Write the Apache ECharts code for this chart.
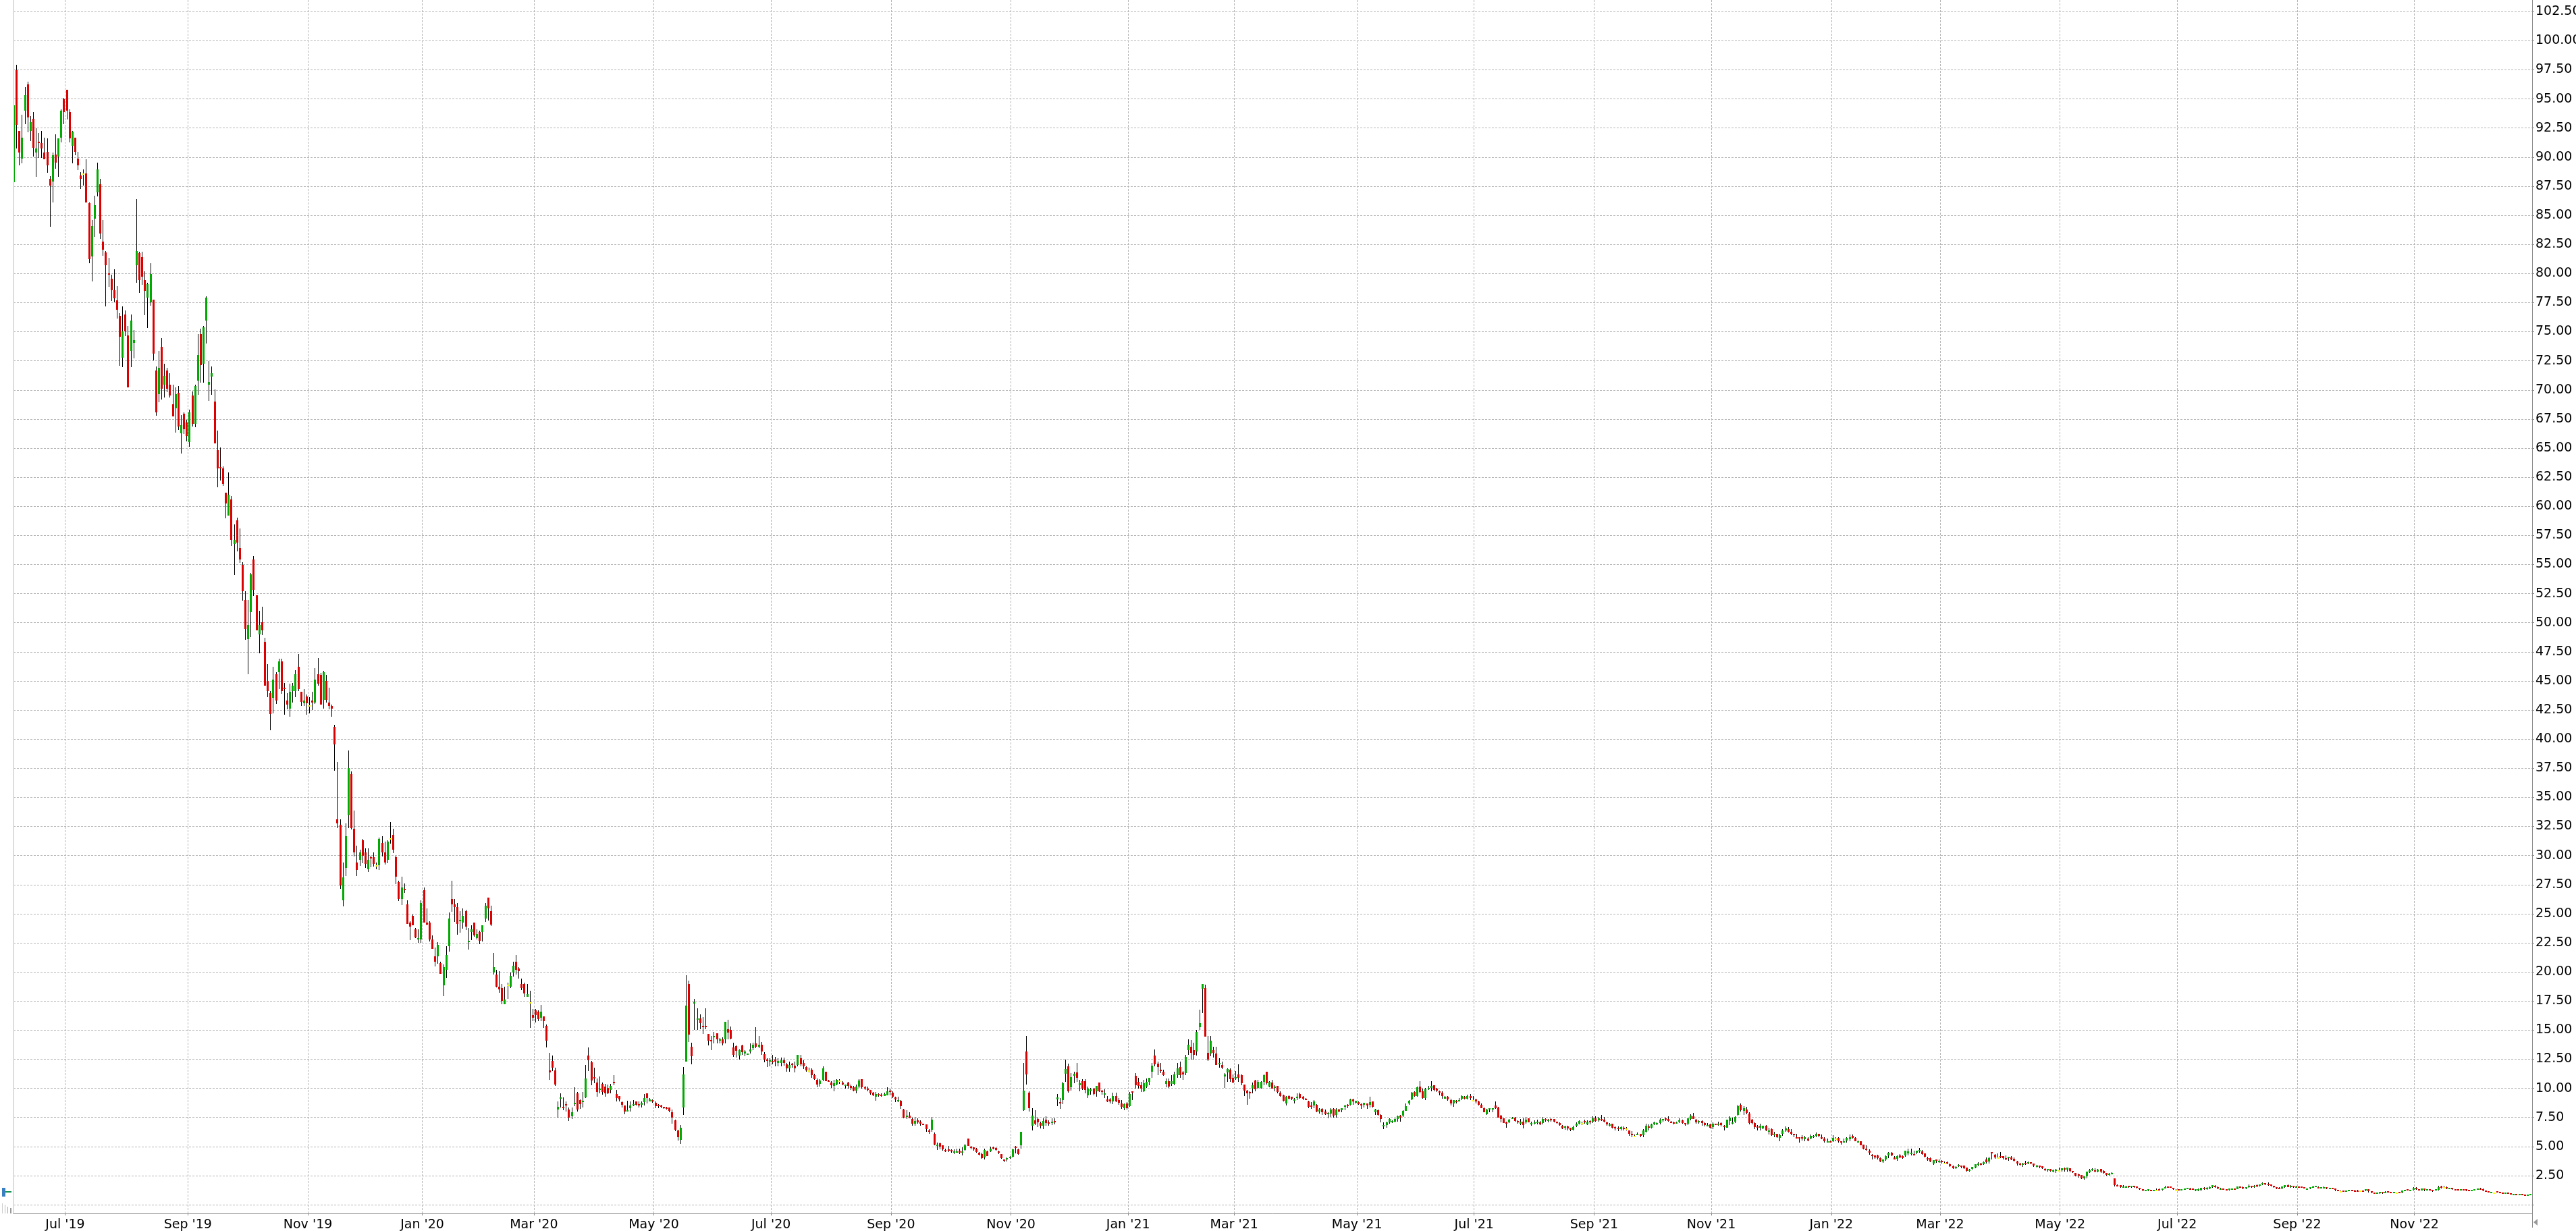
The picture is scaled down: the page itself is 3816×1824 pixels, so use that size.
<!DOCTYPE html>
<html>
<head>
<meta charset="utf-8">
<title>chart</title>
<script src="https://cdn.jsdelivr.net/npm/echarts@6/dist/echarts.min.js"></script>
<style>
html,body{margin:0;padding:0;background:#fff;}
#chart{width:3816px;height:1824px;}
</style>
</head>
<body>
<div id="chart"></div>
<script>
// daily bars, each row is [open, close, low, high]
// one list per two month stretch, same stretches as the date grid
var jun19 = [[87.82,94.43,87.43,94.64],[97.47,92.75,90.77,97.91],[92.28,90.37,89.32,92.28],[89.9,91.7,89.44,93.62],[93.97,95.3,92.81,96],[96.23,93.39,92.11,96.46],[92.28,92.98,91.41,93.5],[93.27,90.83,90.06,93.85],[90.37,90.72,88.28,92.5],[91.3,91.18,89.96,92.05],[91.18,90.72,89.96,92.28],[90.37,89.79,89.79,91.7],[90.48,89.27,88.63,91.59],[88.11,87.58,84.04,88.34],[87.93,90.14,86.08,90.37],[90.25,89.5,88.98,91.94],[90.02,91.59,88.28,91.59],[91.7,93.97,91.24,94.08],[94.95,93.85,92.81,95.07]];
var jul19 = [[95.76,93.97,93.21,95.76],[93.85,91.59,91.24,94.08],[90.95,92.17,89.44,92.28],[91.7,90.48,90.19,91.7],[89.9,89.27,88.86,90.48],[88.45,88.11,87.29,88.69],[88.6,88.6,87.53,88.92],[88.57,86.13,86.13,89.79],[86.02,81.26,80.91,86.13],[81.49,84.1,79.35,84.62],[84.74,85.9,83.12,86.66],[87,88.92,86.6,89.5],[87.7,83.41,83,88.11],[82.77,82.07,81.55,84.62],[81.84,80.74,77.2,81.96],[80.04,79.93,78.88,81.38],[79.58,78.59,77.66,79.93],[78.59,77.9,77.55,80.39],[77.72,76.91,76.15,78.94],[76.37,74.57,72.08,76.6],[72.77,75.03,71.96,77.18],[76.49,75.03,74.63,76.83],[74.69,70.22,70.22,75.5],[73.35,75.96,71.96,76.49],[74.05,74.28,72.71,75.15],[80.74,81.96,79.23,86.42],[81.77,79.44,78.34,81.88],[81.42,79.73,79.04,81.88],[79.44,78.52,76.43,80.2],[77.94,79.1,75.32,79.2],[77.53,79.97,77.24,80.9],[77.76,73.12,72.54,77.76],[71.67,68.07,67.78,72.02],[69.64,71.9,68.94,73.35],[73.7,70.1,69.17,74.45],[70.45,71.2,69.35,72.25],[71.67,70.1,69.8,71.9],[70.45,69.52,69.35,71.44],[68.77,67.72,67.72,70.45],[68.42,69.64,66.33,70.22],[69.76,66.85,66.56,70.33],[66.27,66.97,64.53,67.84],[67.96,66.62,66.21,68.07],[67.2,66.04,65.58,67.43]];
var sep19 = [[65.52,68.07,65.11,68.3],[69.52,67.09,66.85,69.87],[67.09,70.33,66.8,70.45],[70.8,73,69.58,74.8],[74.8,72.13,70.63,75.27],[72.25,75.38,70.63,75.5],[75.96,77.94,74,78.05],[70.44,70.68,69.04,72.5],[71.12,71.43,69.59,72],[69,65.39,65.39,70.03],[64.82,63.27,61.66,66.51],[63.37,63.27,62.2,65.06],[63.24,61.9,61.74,63.45],[61.2,60.24,58.97,61.2],[59.2,60.99,59.2,62.9],[60.58,57.13,56.61,60.89],[56.79,57.1,54.1,58.43],[58.79,56.87,56.12,59.02],[56.4,55.42,55.14,58.09],[54.95,52.7,51.87,55.19],[51.95,49.44,48.51,52.7],[48.58,49.8,45.55,51.95],[50.89,54.15,48.74,54.26],[55.42,52.81,52.29,55.71],[52.34,49.33,49.33,52.34],[48.97,49.8,47.37,51.02],[50.03,49.33,48.92,51.35],[48.35,44.62,44.62,48.69],[44.98,44.15,43.58,46.43],[43.95,42.13,40.74,44.15],[43.53,45.09,42.19,46.2],[45.6,43.3,43.02,45.76],[45.73,46.67,44.31,46.9],[46.67,44.15,43.9,46.9],[44.39,44.28,42.08,44.85],[43.3,42.94,42.55,43.95],[42.6,44.05,41.93,44.75],[44.15,44.62,43.12,44.85],[44.15,45.6,43.58,45.94],[46.2,44.28,44.1,47.29],[44.05,43.2,42.88,44.05],[43.09,43.3,42.88,44.28],[43.64,43.07,42.08,43.82]];
var nov19 = [[42.9,42.9,42.2,43.6],[43.3,43.17,42.5,44.05],[43.17,45.09,43,46.07],[45.6,44.75,44.57,46.98],[45.5,42.96,42.96,45.72],[43.4,45.73,42.6,45.84],[44.98,43.4,43.12,45.5],[43.17,42.84,42.55,44.39],[42.84,42.6,41.93,42.94],[41.08,39.52,37.31,41.2],[33.12,32.78,32.37,38.05],[32.66,27.4,27.11,33.12],[26.17,28.1,25.64,29.42],[28.94,31.68,28.26,32.78],[33.48,37.5,32.37,39.04],[37.02,32.37,32.25,37.23],[32.3,30.28,29.95,33.89],[29.42,28.74,28.26,30.86],[29.66,30.28,29.13,30.52],[31.34,29.99,29.37,31.41],[30.28,29.3,28.91,30.64],[28.84,29.66,28.57,30.64],[29.87,29.75,29,29.97],[29.87,29.3,29.03,30.28],[29.15,29.15,28.8,29.42],[29.18,31.44,28.77,31.53],[31.1,30.28,29.95,31.65],[30.28,29.42,29.25,31.22],[29.66,31.22,29.37,31.34],[31.5,31.5,31.03,32.9],[31.8,30.52,30.24,32.3],[29.87,28.21,27.56,29.97],[27.73,26.29,26.12,27.83],[26.29,27.25,25.76,28.19],[27.15,27.03,26.77,27.61],[25.8,24.13,24.13,26.17],[24.25,23.91,22.76,24.37],[24.82,24.03,24.03,24.92],[23.67,22.95,22.9,23.77],[22.8,22.92,22.49,23.64],[22.8,25.93,22.49,26.17]];
var jan20 = [[27.01,24.25,24.25,27.25],[24.25,24.05,24,25.47],[24.25,22.8,22.63,24.37],[22.8,22,22,23.14],[21.36,20.88,20.5,22.1],[21.36,22.32,20.73,22.56],[20.76,19.82,19.82,20.88],[18.86,20.42,17.94,20.66],[20.18,21.48,19.51,22.23],[22.23,24.61,21.72,25.09],[26.29,25.81,25.18,27.85],[25.81,25.59,24.32,26.29],[25.59,24.13,23.21,25.93],[24.37,24.49,23.38,25.21],[24.25,24.82,23.72,25.47],[25.23,23.91,23.6,25.33],[22.56,22.68,21.94,23.77],[23.45,23.64,22.76,24.03],[24.22,23.16,23,24.22],[22.92,23.28,22.8,23.64],[23.43,22.68,22.39,23.52],[23.45,24,22.63,24],[24.61,25.71,24.32,25.93],[26.41,25.47,24.4,26.41],[25.23,24.05,23.96,25.71],[19.97,20.42,19.75,21.65],[19.8,18.76,18.67,20.16],[18.74,18.52,18.2,20.09],[18.62,17.51,17.25,18.96],[17.2,17.63,17.2,18.74],[18.93,18.93,17.7,19.08],[18.76,19.68,18.59,19.97],[19.97,20.54,19.63,20.88],[20.88,20.18,19.75,21.48],[20.3,20.09,19.44,20.4],[18.98,18.62,18.47,19.44],[18.98,18.14,17.87,19.08],[17.87,18.11,17.87,18.98],[17.37,17.37,15.19,18.4],[16.31,16.07,15.76,16.84]];
var mar20 = [[16.72,16.31,15.66,16.84],[16.6,15.95,15.76,16.72],[16.07,16.57,15.78,17.15],[16.19,15.76,15.2,16.19],[15.35,14.07,13.54,15.47],[11.52,11.38,10.73,13.06],[12.34,11.76,11.5,12.82],[11.52,10.32,10.18,11.76],[8.18,8.42,7.48,8.85],[9.12,9.24,8.37,9.58],[8.42,8.3,8.13,9.2],[8.64,8.54,8,8.85],[8.18,7.48,7.17,8.37],[7.6,7.94,7.36,8.37],[8.64,8.76,8.45,10.08],[9.58,8.18,8.01,9.7],[9,8.62,8.25,9.02],[8.83,8.93,8.37,9.7],[9.21,10.85,9.17,11.98],[12.82,12.39,11.5,13.54],[12.22,10.7,10.27,12.34],[10.97,10.85,10.42,11.79],[10.51,9.7,9.29,10.85],[9.86,9.98,9.58,11.02],[10.37,9.7,9.43,10.48],[10.13,9.58,9.29,10.37],[10.06,9.58,9.5,10.3],[9.86,10.23,9.58,10.37],[10.56,10.44,10.27,11.14],[9.5,9.14,8.85,9.86],[9.34,9.02,8.85,9.34],[8.8,8.56,8.37,8.85],[8.54,8.01,7.77,8.54],[8.04,8.15,8,8.92],[8.3,8.52,8,8.9],[8.54,8.64,8.45,9],[8.88,8.56,8.5,8.88],[8.64,8.54,8.37,8.88],[8.56,8.76,8.37,8.88],[8.83,9.17,8.54,9.5],[9.58,9.14,8.71,9.58],[8.9,9.02,8.9,9.17],[9,8.85,8.78,9.07]];
var may20 = [[8.76,8.45,8.3,8.88],[8.56,8.47,8.3,8.64],[8.54,8.42,8.3,8.59],[8.4,8.3,8.25,8.42],[8.35,8.25,8.18,8.42],[8.35,8.06,7.94,8.37],[7.94,7.48,6.98,8.18],[7.24,6.45,6.33,7.29],[6.38,5.8,5.54,6.45],[5.58,6.62,5.22,6.86],[8.37,11.22,7.72,11.86],[12.3,17.13,12.3,19.69],[18.99,14.63,13.99,19.28],[13.59,12.77,12.09,13.93],[17.27,17.42,15,17.71],[15.93,16.03,15,16.9],[16.03,15.62,15.1,16.36],[15.39,15.29,14.65,16.12],[15.39,15.29,15.1,16.9],[14.69,14.07,13.7,14.69],[14.17,14.07,13.29,14.52],[14.38,14.52,13.88,14.85],[14.75,14.22,13.88,14.75],[14.11,14.22,13.88,14.32],[14.22,13.88,13.7,14.38],[14.19,15.74,13.84,15.74],[15.1,14.81,14.22,15.91],[15.04,14.26,14.22,15.29],[13.53,12.87,12.73,13.93],[13.64,13.22,12.67,13.7],[12.81,13.26,12.48,13.35],[13.7,13.1,12.87,13.74],[13.02,13.16,12.77,13.26],[12.91,13,12.87,13.02],[13.16,13.35,13.02,13.84],[13.45,13.72,13.26,13.9],[13.88,13.58,13.45,15.27],[13.57,13.74,13.45,14.48],[13.76,13.18,12.9,13.99],[12.95,12.48,12.25,13.1],[12.48,12.38,11.84,12.58],[12.27,12.4,11.88,12.58]];
var jul20 = [[12.38,12.23,12.09,12.87],[12.48,12.27,11.9,12.71],[12.17,12.34,11.9,12.58],[12.17,12.44,11.9,12.67],[12.42,12.17,11.94,12.67],[12.09,11.74,11.4,12.19],[11.7,12,11.45,12.29],[12.13,12,11.8,12.19],[11.96,11.7,11.38,12.29],[11.98,12.87,11.9,12.87],[12.58,12.05,11.9,12.87],[12.19,11.9,11.65,12.44],[11.84,11.57,11.41,11.9],[11.55,11.55,11.38,11.8],[11.61,11.12,10.93,11.74],[11.12,10.79,10.74,11.28],[10.74,10.35,10.12,10.83],[10.41,10.68,10.15,10.79],[10.74,11.74,10.64,11.9],[11.41,10.64,10.64,11.45],[10.7,10.58,10.54,10.74],[10.5,10.25,10.06,10.64],[10.23,10.45,9.73,10.74],[10.35,10.72,10.25,10.79],[10.68,10.68,10.39,10.78],[10.5,10.35,10.25,10.64],[10.21,10.31,9.96,10.35],[10.48,10.19,9.96,10.54],[10.19,10.02,9.86,10.31],[10.1,9.81,9.77,10.19],[9.81,10.15,9.57,10.35],[10.15,10.68,10.06,10.79],[10.76,10.1,9.96,10.76],[10.08,10,9.86,10.19],[10,9.92,9.77,10.15],[9.86,9.57,9.48,9.86],[9.61,9.42,9.34,9.67],[9.28,9.52,8.96,9.67],[9.53,9.38,9.28,9.57],[9.48,9.38,9.28,9.57],[9.36,9.5,9.34,9.63],[9.42,9.77,9.38,10.1],[9.83,9.73,9.38,9.96]];
var sep20 = [[9.65,9.28,9.19,9.77],[9.24,9.03,8.8,9.28],[8.9,9,8.8,9.28],[8.93,8.49,8.22,9],[8.2,7.5,7.44,8.22],[7.52,7.67,7.34,8.12],[7.64,7.4,7.4,7.93],[7.38,6.96,6.8,7.48],[6.94,7.21,6.8,7.54],[7.25,7.05,6.96,7.4],[7.15,6.96,6.8,7.25],[6.96,6.86,6.86,6.96],[6.9,6.47,6.28,6.92],[6.38,6.24,6.12,6.47],[6.43,7.33,6.28,7.54],[6.09,5.16,5.08,6.2],[5.04,5.16,4.69,5.31],[5.27,4.98,4.73,5.31],[5.08,4.77,4.63,5.08],[4.69,4.57,4.53,4.83],[4.73,4.63,4.53,5.02],[4.69,4.59,4.44,4.73],[4.5,4.59,4.34,4.73],[4.48,4.59,4.44,4.79],[4.63,4.48,4.38,4.79],[4.48,4.59,4.24,4.92],[4.69,5.12,4.63,5.22],[5.7,5.06,5.02,5.7],[4.98,4.88,4.77,5.02],[4.92,4.73,4.63,4.96],[4.81,4.52,4.44,4.86],[4.46,4.3,4.24,4.5],[4.34,4.01,3.97,4.44],[4.05,4.69,3.9,4.83],[4.59,4.2,4.15,4.63],[4.57,4.83,4.53,4.98],[4.96,4.83,4.73,4.98],[4.85,4.69,4.63,4.92],[4.59,4.44,4.34,4.63],[4.34,4.01,3.97,4.38],[3.86,3.76,3.66,3.9],[3.93,4.03,3.72,4.05],[3.99,4.11,3.93,4.15]];
var nov20 = [[4.11,4.73,4.09,4.83],[4.98,4.86,4.4,5.02],[4.75,4.38,4.3,4.83],[5.12,6.26,4.83,6.26],[8.1,9.8,8.06,12.19],[13.18,11.2,10.35,14.52],[9.63,8.31,8.02,9.77],[6.8,7.64,6.38,8.27],[7.25,6.96,6.86,8.12],[7.38,7.05,6.67,7.48],[7.02,6.76,6.57,7.15],[6.76,7.19,6.47,7.44],[7.31,7.02,6.76,7.58],[7.09,7,6.76,7.25],[7.03,7.15,6.86,7.44],[7.19,7.07,6.9,7.44],[9.03,9.22,8.47,9.52],[8.82,8.7,8.26,9.19],[8.99,10.45,8.64,10.54],[11.26,11.65,10.54,12.48],[11.88,9.77,9.61,12.11],[10.08,10.97,9.81,11.32],[11.08,11.26,10.45,11.41],[11.38,10.93,10.54,12.19],[10.29,10.45,9.77,10.74],[10.64,9.96,9.86,10.78],[10.62,9.86,9.57,10.78],[9.42,9.96,9.19,10.15],[9.77,9.92,9.48,10.02],[9.96,9.53,9.38,10.06],[9.77,10.19,9.28,10.21],[10.5,9.77,9.67,10.5],[9.81,9.67,9.48,9.86],[9.48,9.57,9.19,9.92],[9.05,8.9,8.8,9.34],[9.03,8.9,8.7,9.19],[8.86,9.34,8.64,9.63],[9.34,8.86,8.8,9.61],[8.99,8.74,8.6,9.19],[8.72,8.41,8.22,8.99],[8.31,8.64,8.12,8.7],[8.7,8.31,8.18,8.8]];
var jan21 = [[8.45,9.52,8.41,9.67],[9.77,9.65,9,9.77],[11.09,10.25,10,11.32],[10.54,10.21,9.96,10.93],[10.25,9.96,9.67,10.54],[9.77,10.45,9.67,10.74],[10.15,10.54,10.06,10.83],[10.54,10.89,10.25,10.93],[11.41,11.96,10.93,12.19],[12.83,12.09,11.9,13.35],[12.13,11.84,11.16,12.29],[11.61,11.49,11.32,12.19],[11.41,11.16,11.1,11.61],[10.39,10.64,10.12,10.83],[10.6,10.15,10.06,10.83],[10.39,10.64,10.19,11.12],[10.39,11.2,10.25,11.41],[11.16,11.74,10.93,12.19],[11.84,11.16,10.93,12.29],[11.38,11.22,10.74,11.51],[11.32,12.73,11.12,12.87],[13.26,13.76,12.87,14.22],[13.6,13.06,12.48,14.13],[13.31,12.87,12.48,13.93],[13.16,14.86,12.83,15.04],[15.27,15.62,15.04,16.78],[18.53,18.95,16.45,18.97],[18.59,14.46,14.42,18.93],[13.06,12.48,12.33,14.52],[12.98,14.11,12.77,14.52],[13.31,13.06,12.67,13.6],[13,12.03,11.99,13.6],[12.07,12.19,11.8,12.58],[12.03,11.8,11.67,12.29],[11.03,11.22,10.04,11.32],[11.36,11.67,10.54,11.74],[11.61,10.79,10.54,11.71],[10.93,10.5,10.45,11.22]];
var mar21 = [[10.83,10.99,10.74,11.51],[11.22,10.93,10.54,12.05],[11.16,10.45,10.25,11.22],[10.31,9.83,9.34,10.31],[9.81,9.57,8.6,9.86],[9.69,9.57,9.13,9.77],[9.96,10.25,9.57,10.5],[10.66,9.92,9.77,10.74],[10.02,10.54,9.96,10.74],[10.04,10.58,9.96,10.64],[10.54,11.16,10.25,11.22],[11.41,10.45,10.35,11.41],[10.15,10.58,10.12,10.64],[10.48,9.96,9.96,10.74],[10.02,10.17,9.77,10.25],[10.19,9.69,9.57,10.21],[9.65,9.34,9.28,9.77],[9.4,8.93,8.89,9.44],[8.7,9.28,8.55,9.32],[9.34,9.09,9.05,9.38],[9.26,9.09,8.99,9.28],[8.95,9.05,8.7,9.19],[9.15,9.28,8.99,9.57],[9.53,9.19,9.09,9.63],[9.26,9.11,8.99,9.34],[9.11,9.03,8.99,9.19],[8.88,8.41,8.31,8.95],[8.55,8.41,8.22,8.8],[8.51,8.9,8.27,8.99],[8.57,8.02,7.92,8.64],[7.98,8.18,7.83,8.27],[8.22,7.93,7.73,8.31],[8.02,7.79,7.73,8.18],[7.77,7.87,7.44,7.93],[7.83,8.18,7.54,8.31],[8.26,7.67,7.48,8.31],[7.73,8.16,7.5,8.31],[8.16,8.02,7.93,8.22],[8.12,8.31,7.93,8.31],[8.41,8.55,8.12,8.6],[8.57,8.45,8.3,8.64],[8.6,9.05,8.55,9.13],[9.03,8.9,8.6,9.09],[8.74,8.91,8.7,8.93]];
var may21 = [[8.8,8.64,8.6,8.89],[8.64,8.53,8.26,8.7],[8.57,8.74,8.37,8.74],[8.7,8.51,8.26,8.7],[8.57,8.84,8.37,9.28],[8.86,8.41,8.37,8.86],[7.93,8.16,7.73,8.22],[8.12,7.69,7.64,8.16],[7.73,7.34,7.05,7.79],[6.76,6.86,6.51,7.09],[6.86,7.05,6.63,7.15],[7.05,7.38,6.96,7.44],[7.05,7.21,7,7.25],[7.15,7.34,7.05,7.4],[7.34,7.6,7.11,7.64],[7.64,7.48,7.15,7.69],[7.64,8.08,7.54,8.12],[8.08,8.47,8.06,8.7],[8.7,8.95,8.6,8.99],[9.03,9.63,8.99,9.67],[9.71,9.34,9.28,9.77],[9.34,10.1,9.28,10.15],[10.15,9.67,9.57,10.6],[9.77,9.19,9.09,9.96],[9.15,9.92,9,10.06],[9.96,10.06,9.86,10.19],[10.02,10.19,9.77,10.64],[10.25,9.86,9.77,10.25],[10,9.81,9.67,10.06],[9.75,9.65,9.42,9.83],[9.65,9.34,9.09,9.73],[9.13,9.28,9.09,9.34],[9.28,9.03,8.95,9.34],[8.99,8.7,8.51,9.09],[8.7,8.99,8.41,8.99],[8.91,8.82,8.7,8.99],[8.89,8.99,8.86,9.19],[9.09,9.32,8.99,9.38],[9.28,9.13,9.05,9.34],[9.13,9.32,9.05,9.48],[9.32,9.19,8.99,9.52],[8.99,8.99,8.86,9.32]];
var jul21 = [[9.03,8.89,8.7,9.13],[8.88,8.57,8.51,8.93],[8.6,8.31,8.31,8.7],[8.31,7.93,7.93,8.35],[7.79,8.16,7.73,8.22],[8.18,8.27,7.93,8.31],[8.18,8.27,7.93,8.31],[8.51,8.31,8.22,8.86],[8.35,7.48,7.48,8.41],[7.65,7.34,7.05,7.69],[7.4,7.01,7,7.44],[7.05,6.96,6.63,7.15],[7.09,7.29,7,7.34],[7.34,7.5,7.34,7.54],[7.5,7.21,7.15,7.54],[7.19,7.05,6.96,7.25],[6.96,7.15,6.86,7.34],[7.15,6.86,6.57,7.44],[7.05,7.29,6.96,7.54],[7.4,7.05,7.05,7.44],[6.92,7.02,6.8,7.15],[6.96,7.05,6.9,7.25],[7.05,7.15,6.92,7.29],[7.05,6.9,6.82,7.19],[7.01,7.34,6.92,7.54],[7.36,7.25,7.15,7.44],[7.23,7.33,7.05,7.34],[7.34,7.25,7.15,7.4],[7.34,7.15,7.09,7.38],[7.13,7.02,6.96,7.15],[7.02,6.82,6.76,7.05],[6.8,6.57,6.51,6.86],[6.63,6.74,6.43,6.76],[6.72,6.57,6.41,6.76],[6.61,6.43,6.34,6.63],[6.43,6.67,6.38,6.76],[6.76,6.96,6.67,7.05],[6.96,7.21,6.92,7.25],[7.02,7.02,6.86,7.15],[7.17,7.05,6.96,7.29],[6.92,7.15,6.84,7.27],[7.17,7.05,6.88,7.23],[7.11,7.42,7,7.58]];
var sep21 = [[7.4,7.17,7.11,7.58],[7.23,7.4,7.11,7.56],[7.38,7.29,7.17,7.69],[7.29,7.11,7.05,7.52],[7.05,6.88,6.76,7.11],[6.76,6.88,6.71,7],[6.94,6.59,6.53,6.94],[6.65,6.53,6.36,6.71],[6.59,6.47,6.3,6.71],[6.47,6.65,6.36,6.71],[6.59,6.47,6.41,6.71],[6.53,6.53,6.36,6.65],[6.36,6.12,5.89,6.36],[6.12,6.01,5.83,6.3],[5.91,5.91,5.79,6.01],[6.03,6.12,5.97,6.18],[6.07,5.89,5.83,6.07],[5.95,6.36,5.78,6.47],[6.24,6.76,6.18,6.94],[6.71,6.59,6.41,6.88],[6.59,6.88,6.53,6.94],[6.88,7.05,6.82,7.11],[6.88,7,6.82,7.05],[7,7.29,6.88,7.4],[7.23,7.34,7.11,7.34],[7.4,7.29,7.17,7.46],[7.34,7.17,7.11,7.58],[7.11,7,7,7.17],[7.05,6.94,6.88,7.11],[6.94,7.05,6.94,7.11],[7.11,7.23,7,7.4],[7.23,7,6.94,7.29],[7,6.88,6.76,7],[6.94,7.4,6.82,7.4],[7.34,7.64,7.23,7.75],[7.58,7.34,7.34,7.87],[7.29,7.05,6.94,7.34],[7.05,7.17,6.94,7.23],[7.17,7,6.76,7.23],[7,6.82,6.71,7.05],[6.71,6.82,6.71,7],[6.88,6.59,6.53,6.94]];
var nov21 = [[6.65,6.94,6.47,7.05],[6.94,6.82,6.82,6.94],[6.82,6.94,6.76,7.11],[7,6.82,6.71,7.05],[6.76,6.65,6.36,6.82],[6.59,7.29,6.59,7.29],[7.17,7.46,6.82,7.58],[6.94,7.05,6.88,7.46],[7.11,7.52,7,7.58],[7.69,8.45,7.64,8.57],[8.57,8.1,7.98,8.68],[8.04,8.28,7.69,8.45],[8.16,7.87,7.75,8.39],[7.81,7,6.88,7.93],[7.29,7,6.88,7.34],[7,6.65,6.47,7.05],[6.71,6.59,6.41,6.82],[6.59,6.76,6.41,6.94],[6.53,6.76,6.47,6.76],[6.76,6.41,6.3,6.82],[6.3,6.41,6.01,6.59],[6.47,5.95,5.89,6.53],[5.95,6.12,5.83,6.24],[6.07,5.78,5.72,6.12],[5.72,5.95,5.48,6.07],[6.07,6.36,5.89,6.47],[6.36,6.53,6.24,6.71],[6.47,6.24,6.18,6.65],[6.24,6.07,5.95,6.47],[6.12,5.95,5.78,6.12],[5.83,5.72,5.72,6.07],[5.83,5.72,5.31,5.83],[5.78,5.66,5.54,5.95],[5.6,5.83,5.43,5.89],[5.66,5.54,5.43,5.78],[5.66,5.89,5.6,6.01],[5.78,5.89,5.72,5.95],[5.89,6.07,5.78,6.18],[6.07,5.89,5.78,6.07],[5.83,5.72,5.6,6.01],[5.66,5.43,5.31,5.83],[5.37,5.48,5.31,5.66],[5.48,5.37,5.31,5.54]];
var jan22 = [[5.48,5.72,5.37,5.95],[5.68,5.68,5.48,5.78],[5.72,5.43,5.31,5.78],[5.43,5.31,5.14,5.48],[5.37,5.48,5.37,5.66],[5.54,5.72,5.31,5.83],[5.6,5.83,5.48,6.01],[5.89,5.72,5.66,6.01],[5.72,5.48,5.43,5.78],[5.37,5.48,5.31,5.54],[5.48,5.08,5.08,5.48],[5.14,4.84,4.73,5.14],[4.84,4.73,4.67,5.08],[4.67,4.44,4.32,4.73],[4.32,4.21,3.86,4.38],[4.21,4.09,3.97,4.26],[4.26,4.03,3.91,4.32],[4.03,3.74,3.68,4.09],[3.74,3.86,3.62,3.91],[3.86,4.15,3.8,4.21],[4.21,4.44,4.03,4.5],[4.44,4.21,4.15,4.5],[4.09,3.91,3.86,4.15],[3.97,4.15,3.8,4.21],[4.21,4.09,4.03,4.38],[4.15,4.03,3.97,4.21],[4.26,4.62,4.14,4.62],[4.43,4.56,4.26,4.79],[4.33,4.45,4.22,4.79],[4.33,4.22,4.22,4.62],[4.45,4.62,4.33,4.62],[4.56,4.68,4.45,4.85],[4.56,4.33,4.27,4.68],[4.39,4.1,4.05,4.39],[3.99,3.87,3.76,4.1],[3.99,3.7,3.64,4.05],[3.53,3.82,3.41,3.82],[3.87,3.76,3.59,3.87],[3.64,3.76,3.59,3.87]];
var mar22 = [[3.76,3.64,3.53,3.82],[3.61,3.61,3.47,3.7],[3.64,3.53,3.47,3.7],[3.47,3.3,3.24,3.53],[3.3,3.13,3.07,3.36],[3.13,3.24,3.07,3.3],[3.3,3.41,3.24,3.47],[3.36,3.24,3.13,3.36],[3.36,3.13,3.07,3.36],[3.19,2.9,2.84,3.19],[2.9,3.01,2.84,3.07],[3.07,3.24,3.01,3.24],[3.19,3.47,3.13,3.47],[3.41,3.53,3.3,3.64],[3.53,3.41,3.36,3.59],[3.47,3.64,3.41,3.7],[3.87,3.64,3.53,4.05],[3.7,3.99,3.53,4.1],[4.5,4.39,3.87,4.5],[4.27,4.05,3.93,4.33],[4.05,4.05,3.93,4.39],[4.16,4.05,3.99,4.5],[4.16,3.99,3.87,4.16],[3.99,3.87,3.82,4.22],[3.99,4.1,3.76,4.1],[4.05,3.87,3.82,4.16],[3.93,3.76,3.7,4.05],[3.7,3.53,3.36,3.76],[3.53,3.41,3.36,3.59],[3.41,3.53,3.24,3.59],[3.59,3.47,3.41,3.76],[3.53,3.64,3.47,3.7],[3.64,3.53,3.47,3.64],[3.53,3.36,3.24,3.53],[3.24,3.36,3.19,3.41],[3.36,3.24,3.13,3.36],[3.3,3.13,3.07,3.3],[3.07,2.96,2.9,3.13],[2.96,3.07,2.84,3.07],[3.07,2.9,2.84,3.07],[2.84,2.96,2.78,3.01],[2.9,3.01,2.73,3.07],[2.96,2.96,2.84,3.19]];
var may22 = [[2.96,3.13,2.84,3.13],[3.13,3.01,2.84,3.19],[3.01,3.19,2.84,3.19],[3.13,2.9,2.78,3.13],[2.9,2.78,2.73,2.9],[2.73,2.5,2.44,2.73],[2.61,2.5,2.33,2.67],[2.56,2.27,2.21,2.56],[2.27,2.44,2.15,2.44],[2.44,2.84,2.27,2.84],[2.78,2.96,2.73,3.07],[2.96,3.07,2.9,3.13],[2.96,2.84,2.78,3.13],[2.84,3.01,2.78,3.07],[3.07,2.84,2.73,3.07],[2.9,2.73,2.67,2.96],[2.73,2.56,2.5,2.73],[2.56,2.67,2.5,2.73],[2.61,2.73,2.59,2.78],[2.27,1.7,1.58,2.27],[1.7,1.58,1.58,1.75],[1.7,1.52,1.47,1.7],[1.47,1.58,1.47,1.7],[1.47,1.58,1.47,1.64],[1.64,1.52,1.47,1.64],[1.52,1.64,1.47,1.64],[1.64,1.52,1.47,1.64],[1.58,1.47,1.41,1.58],[1.47,1.35,1.29,1.47],[1.35,1.24,1.18,1.35],[1.18,1.29,1.18,1.29],[1.24,1.35,1.18,1.35],[1.29,1.18,1.18,1.29],[1.18,1.29,1.18,1.29],[1.29,1.29,1.24,1.41],[1.35,1.24,1.24,1.41],[1.29,1.41,1.24,1.41],[1.41,1.52,1.41,1.64],[1.58,1.47,1.47,1.58],[1.58,1.47,1.47,1.58],[1.47,1.35,1.29,1.47],[1.29,1.29,1.24,1.35]];
var jul22 = [[1.35,1.24,1.24,1.35],[1.24,1.35,1.24,1.35],[1.29,1.41,1.29,1.41],[1.34,1.46,1.34,1.46],[1.42,1.34,1.28,1.46],[1.42,1.3,1.3,1.42],[1.22,1.34,1.17,1.34],[1.22,1.34,1.17,1.38],[1.28,1.46,1.17,1.46],[1.48,1.36,1.3,1.53],[1.36,1.48,1.3,1.53],[1.42,1.53,1.36,1.59],[1.51,1.67,1.48,1.71],[1.65,1.53,1.48,1.71],[1.51,1.4,1.34,1.57],[1.3,1.42,1.3,1.48],[1.42,1.3,1.3,1.42],[1.36,1.24,1.24,1.36],[1.28,1.4,1.22,1.4],[1.3,1.42,1.3,1.42],[1.42,1.3,1.3,1.42],[1.36,1.57,1.36,1.57],[1.57,1.48,1.48,1.57],[1.53,1.42,1.36,1.57],[1.4,1.51,1.34,1.53],[1.53,1.65,1.46,1.77],[1.65,1.53,1.48,1.65],[1.53,1.65,1.48,1.71],[1.71,1.59,1.53,1.77],[1.65,1.77,1.59,1.77],[1.77,1.88,1.71,1.94],[1.88,1.77,1.71,1.88],[1.82,1.71,1.65,1.94],[1.75,1.63,1.57,1.77],[1.63,1.51,1.46,1.65],[1.51,1.4,1.34,1.53],[1.48,1.36,1.34,1.53],[1.42,1.57,1.36,1.59],[1.53,1.71,1.48,1.71],[1.71,1.53,1.51,1.77],[1.53,1.65,1.46,1.71],[1.65,1.53,1.48,1.65],[1.48,1.59,1.48,1.65]];
var sep22 = [[1.57,1.46,1.46,1.57],[1.57,1.46,1.46,1.57],[1.51,1.42,1.42,1.51],[1.3,1.42,1.3,1.42],[1.4,1.51,1.36,1.51],[1.48,1.57,1.48,1.63],[1.53,1.65,1.53,1.65],[1.53,1.42,1.42,1.57],[1.42,1.53,1.42,1.53],[1.42,1.53,1.42,1.57],[1.51,1.4,1.34,1.53],[1.36,1.48,1.36,1.48],[1.48,1.36,1.36,1.48],[1.4,1.28,1.19,1.42],[1.3,1.19,1.19,1.3],[1.19,1.19,1.07,1.24],[1.24,1.13,1.13,1.24],[1.13,1.24,1.13,1.24],[1.19,1.3,1.19,1.3],[1.3,1.19,1.19,1.3],[1.24,1.13,1.13,1.3],[1.24,1.13,1.13,1.3],[1.24,1.24,1.24,1.24],[1.24,1.13,1.13,1.24],[1.24,1.36,1.19,1.36],[1.36,1.19,1.07,1.36],[1.19,1.07,1.01,1.19],[1.07,0.95,0.95,1.07],[0.95,1.07,0.95,1.07],[1.01,1.13,0.95,1.13],[1.13,1.01,0.95,1.13],[1.01,1.13,1.01,1.19],[1.19,1.07,1.07,1.19],[1.12,1.01,1.01,1.12],[1.01,1.12,1.01,1.12],[1.07,1.07,1.07,1.07],[1.12,1.01,1.01,1.12],[1.07,1.24,1.01,1.24],[1.18,1.3,1.18,1.3],[1.32,1.2,1.2,1.32],[1.18,1.3,1.18,1.3],[1.28,1.45,1.24,1.51]];
var nov22 = [[1.45,1.34,1.28,1.51],[1.36,1.24,1.24,1.36],[1.24,1.41,1.24,1.41],[1.41,1.3,1.18,1.41],[1.24,1.36,1.24,1.36],[1.36,1.24,1.24,1.36],[1.3,1.18,1.12,1.3],[1.22,1.34,1.22,1.34],[1.3,1.53,1.24,1.65],[1.59,1.47,1.41,1.65],[1.51,1.51,1.41,1.65],[1.53,1.41,1.36,1.59],[1.36,1.47,1.36,1.47],[1.47,1.36,1.3,1.47],[1.36,1.24,1.24,1.36],[1.36,1.24,1.24,1.36],[1.24,1.36,1.24,1.36],[1.36,1.24,1.24,1.36],[1.36,1.24,1.18,1.36],[1.3,1.18,1.18,1.3],[1.18,1.3,1.18,1.3],[1.24,1.36,1.24,1.36],[1.3,1.41,1.3,1.41],[1.41,1.3,1.3,1.47],[1.36,1.24,1.18,1.41],[1.24,1.12,1.12,1.24],[1.18,1.07,1.07,1.18],[1.01,1.12,1.01,1.12],[1.07,1.07,1.07,1.07],[1.14,1.03,1.03,1.14],[1.12,1.01,1.01,1.12],[1.07,0.95,0.95,1.07],[0.95,1.07,0.95,1.07],[1.07,0.95,0.95,1.07],[1.01,0.89,0.89,1.01],[0.83,0.95,0.83,0.95],[0.95,0.83,0.83,0.95],[0.83,0.95,0.83,0.95],[0.95,0.83,0.83,0.95],[0.89,0.78,0.78,0.89],[0.78,0.89,0.78,0.89],[0.83,0.95,0.83,0.95]];

var stretches = [jun19,jul19,sep19,nov19,jan20,mar20,may20,jul20,sep20,nov20,jan21,mar21,may21,jul21,sep21,nov21,jan22,mar22,may22,jul22,sep22,nov22];
var monthLabels = ["Jul '19","Sep '19","Nov '19","Jan '20","Mar '20","May '20","Jul '20","Sep '20","Nov '20","Jan '21","Mar '21","May '21","Jul '21","Sep '21","Nov '21","Jan '22","Mar '22","May '22","Jul '22","Sep '22","Nov '22"];
var priceStep = 2.5;
var priceTop = 102.5;

var bars = [];
var monthTicks = [];
stretches.forEach(function (list, s) {
    if (s > 0) monthTicks.push(bars.length - 0.5);
    list.forEach(function (b) {
        bars.push([bars.length, b[0], b[1], b[2], b[3]]);
    });
});

var priceTicks = [];
for (var k = 0; k * priceStep <= priceTop; k++) priceTicks.push(k * priceStep);

function drawBar(params, api) {
    var i = api.value(0), o = api.value(1), c = api.value(2);
    var cx = Math.round(api.coord([i, o])[0]);
    var top = Math.round(api.coord([i, Math.max(o, c)])[1]);
    var bot = Math.round(api.coord([i, Math.min(o, c)])[1]);
    var low = Math.round(api.coord([i, api.value(3)])[1]);
    var high = Math.round(api.coord([i, api.value(4)])[1]);
    var fill = c > o ? '#00aa00' : (c < o ? '#dd0000' : '#ffff00');
    return {
        type: 'group',
        children: [
            { type: 'rect', shape: { x: cx, y: high, width: 1, height: Math.max(low - high, 1) }, style: { fill: '#000' } },
            { type: 'rect', shape: { x: cx - 1, y: top, width: 3, height: Math.max(bot - top, 2) }, style: { fill: fill } }
        ]
    };
}

var chart = echarts.init(document.getElementById('chart'));
chart.setOption({
    animation: false,
    backgroundColor: '#fff',
    textStyle: { fontFamily: 'DejaVu Sans' },
    grid: { left: 20, right: 65, top: 0, bottom: 26, containLabel: false, outerBoundsMode: 'none' },
    xAxis: {
        type: 'value',
        min: 0,
        max: 902.7,
        axisLine: { show: true, onZero: false, lineStyle: { color: '#888', width: 1 } },
        axisTick: { show: true, length: 3, customValues: monthTicks, lineStyle: { color: '#888' } },
        axisLabel: {
            show: true,
            customValues: monthTicks,
            color: '#000',
            fontSize: 19,
            fontFamily: 'DejaVu Sans',
            margin: 8,
            hideOverlap: false,
            formatter: function (v) { return monthLabels[monthTicks.indexOf(v)] || ''; }
        },
        splitLine: { show: true, customValues: monthTicks, lineStyle: { color: '#b4b4b4', type: [3, 2], width: 1 } }
    },
    yAxis: {
        type: 'value',
        position: 'right',
        min: -0.75,
        max: 103.5,
        axisLine: { show: true, onZero: false, lineStyle: { color: '#888', width: 1 } },
        axisTick: { show: true, length: 3, customValues: priceTicks, lineStyle: { color: '#888' } },
        axisLabel: {
            show: true,
            customValues: priceTicks.slice(1),
            color: '#000',
            fontSize: 19,
            fontFamily: 'DejaVu Sans',
            margin: 5,
            hideOverlap: false,
            formatter: function (v) { return v.toFixed(2); }
        },
        splitLine: { show: true, customValues: priceTicks, lineStyle: { color: '#b4b4b4', type: [3, 2], width: 1 } }
    },
    graphic: [
        { type: 'rect', z: 10, shape: { x: 20, y: 0, width: 1, height: 1798 }, style: { fill: '#bbb' } },
        { type: 'rect', z: 10, shape: { x: 3751, y: 1798, width: 1, height: 21 }, style: { fill: '#888' } },
        { type: 'polygon', z: 10, shape: { points: [[3753, 1811], [3759, 1806], [3759, 1816]] }, style: { fill: '#999' } },
        { type: 'rect', z: 10, shape: { x: 3, y: 1760, width: 5, height: 13 }, style: { fill: '#3a7fc0' } },
        { type: 'rect', z: 10, shape: { x: 8, y: 1765, width: 9, height: 2 }, style: { fill: '#109050' } },
        { type: 'rect', z: 10, shape: { x: 3, y: 1783, width: 1, height: 15 }, style: { fill: '#ccc' } },
        { type: 'rect', z: 10, shape: { x: 7, y: 1785, width: 1, height: 13 }, style: { fill: '#bbb' } },
        { type: 'rect', z: 10, shape: { x: 11, y: 1788, width: 1, height: 10 }, style: { fill: '#aaa' } },
        { type: 'rect', z: 10, shape: { x: 15, y: 1790, width: 2, height: 8 }, style: { fill: '#999' } }
    ],
    series: [{
        type: 'custom',
        renderItem: drawBar,
        clip: true,
        silent: true,
        encode: { x: 0, y: [1, 2, 3, 4] },
        data: bars
    }]
});
</script>
</body>
</html>
